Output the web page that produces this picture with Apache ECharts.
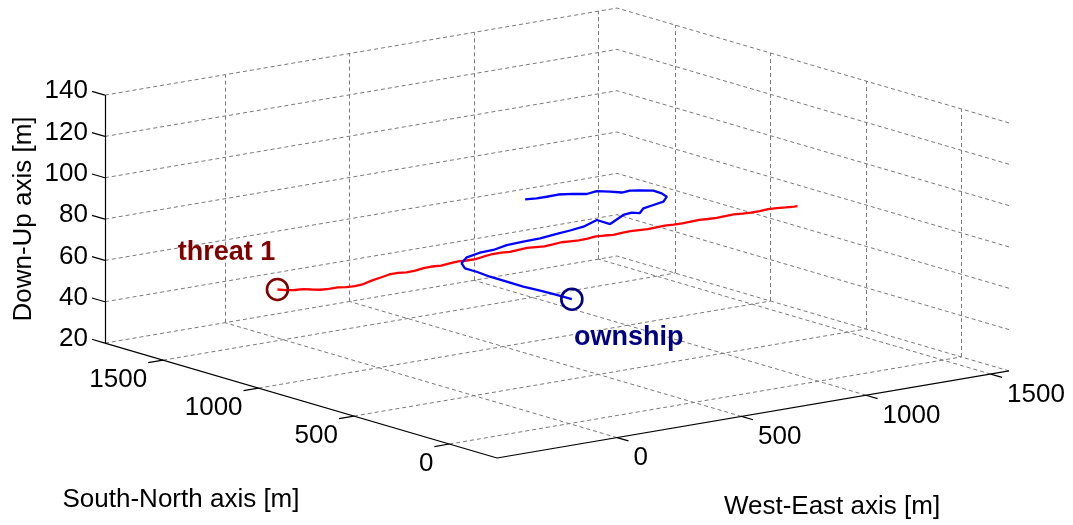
<!DOCTYPE html>
<html>
<head>
<meta charset="utf-8">
<script src="https://cdn.jsdelivr.net/npm/echarts@6/dist/echarts.min.js"></script>
<style>
  html, body { margin: 0; padding: 0; background: #ffffff; }
  #chart { width: 1073px; height: 525px; }
</style>
</head>
<body>
<div id="chart"></div>
<script>
// ---- axis extents (metres) ----
const weLimits = [-482, 1574];   // West-East
const snLimits = [-250, 1805];   // South-North
const upLimits = [20, 140];      // Down-Up

// ---- tick values ----
const weTicks = [0, 500, 1000, 1500];
const snTicks = [0, 500, 1000, 1500];
const upTicks = [20, 40, 60, 80, 100, 120, 140];

// ---- ownship track ----
const ownshipWE = [10, 8, 3, -5, -4, -3, 6, 6, 41, 106, 179, 237, 314, 385, 457, 537, 601, 668, 760, 759,
                   871, 912, 930, 980, 1034, 1088, 1140, 1156, 1158, 1125, 1098, 1062, 1039, 1011, 960, 926, 883, 834, 795, 757];
const ownshipSN = [0, 77, 157, 235, 323, 412, 494, 555, 618, 676, 703, 708, 738, 744, 750, 767, 781, 798, 848, 777,
                   854, 864, 844, 891, 909, 927, 977, 1025, 1071, 1099, 1116, 1111, 1143, 1176, 1162, 1188, 1211, 1208, 1209, 1220];
const ownshipUp = [80, 80, 80, 80, 80, 80, 80, 80, 80, 80, 80, 80, 80, 80, 80, 80, 80, 80, 80, 80,
                   80, 80, 80, 80, 80, 80, 80, 80, 80, 80, 80, 80, 80, 80, 80, 80, 80, 80, 80, 80];

// ---- threat 1 track ----
const threatWE = [0, 25, 50, 75, 100, 125, 150, 175, 200, 225, 250, 275, 300, 325, 350, 375, 400, 425, 450, 475,
                  500, 525, 550, 575, 600, 625, 650, 675, 700, 725, 750, 775, 800, 825, 850, 875, 900, 925, 950, 975,
                  1000, 1025, 1050, 1075, 1100, 1125, 1150, 1175, 1200, 1225, 1250, 1275, 1300, 1325, 1350, 1375, 1400, 1425, 1450, 1475,
                  1500, 1510];
const threatSN = [1530, 1518, 1505, 1492, 1480, 1468, 1455, 1442, 1430, 1418, 1405, 1392, 1380, 1368, 1355, 1342, 1330, 1318, 1305, 1292,
                  1280, 1268, 1255, 1242, 1230, 1218, 1205, 1192, 1180, 1168, 1155, 1142, 1130, 1118, 1105, 1092, 1080, 1068, 1055, 1042,
                  1030, 1018, 1005, 992, 980, 968, 955, 942, 930, 918, 905, 892, 880, 868, 855, 842, 830, 818, 805, 792,
                  780, 775];
const threatUp = [43.5, 43.0, 42.9, 43.2, 42.8, 42.5, 42.8, 43.3, 43.3, 43.6, 44.4, 46.0, 47.2, 48.5, 49.1, 49.2, 49.8, 50.9, 51.5, 51.8,
                  52.7, 53.4, 53.7, 54.2, 55.3, 56.3, 56.8, 57.0, 57.8, 58.6, 58.8, 59.0, 59.8, 60.6, 60.9, 61.2, 61.9, 62.7, 63.0, 63.2,
                  63.9, 64.6, 64.9, 65.2, 65.9, 66.6, 66.9, 67.3, 68.0, 68.6, 68.9, 69.3, 70.0, 70.6, 70.8, 71.1, 71.7, 72.4, 72.8, 73.0,
                  73.2, 73.3];

// ---- 3-D view: azimuth / elevation and plot-box edge lengths (screen units) ----
const view = { az: 37.3, el: 12.9 };
const box = { we: 643.7, sn: 647, up: 254.4 };
const tickLen = { we: 60, sn: 60, up: 68 };   // tick mark length, in data units of the direction they point

const RAD = Math.PI / 180;
const ca = Math.cos(view.az * RAD), sa = Math.sin(view.az * RAD);
const ce = Math.cos(view.el * RAD), se = Math.sin(view.el * RAD);

// orthographic projection of a (WE, SN, Up) point onto the page plane
function project(we, sn, up) {
  const x = box.we * (we - weLimits[0]) / (weLimits[1] - weLimits[0]);
  const y = box.sn * (sn - snLimits[0]) / (snLimits[1] - snLimits[0]);
  const z = box.up * (up - upLimits[0]) / (upLimits[1] - upLimits[0]);
  return [x * ca - y * sa, (x * sa + y * ca) * se + z * ce];
}
function seg(a, b) { return { coords: [project(a[0], a[1], a[2]), project(b[0], b[1], b[2])] }; }

const [we0, we1] = weLimits, [sn0, sn1] = snLimits, [up0, up1] = upLimits;

// dashed grid on the floor and on the two back walls
const gridSegs = [];
weTicks.forEach(t => {
  gridSegs.push(seg([t, sn0, up0], [t, sn1, up0]));       // floor
  gridSegs.push(seg([t, sn1, up0], [t, sn1, up1]));       // back wall (north)
});
snTicks.forEach(t => {
  gridSegs.push(seg([we0, t, up0], [we1, t, up0]));       // floor
  gridSegs.push(seg([we1, t, up0], [we1, t, up1]));       // back wall (east)
});
upTicks.forEach(t => {
  gridSegs.push(seg([we0, sn1, t], [we1, sn1, t]));
  gridSegs.push(seg([we1, sn0, t], [we1, sn1, t]));
});

// solid axis lines and outward tick marks
const axisSegs = [
  seg([we0, sn1, up0], [we0, sn1, up1]),
  seg([we0, sn0, up0], [we0, sn1, up0]),
  seg([we0, sn0, up0], [we1, sn0, up0])
];
upTicks.forEach(t => axisSegs.push(seg([we0, sn1, t], [we0, sn1 + tickLen.up, t])));
snTicks.forEach(t => axisSegs.push(seg([we0, t, up0], [we0 - tickLen.sn, t, up0])));
weTicks.forEach(t => axisSegs.push(seg([t, sn0, up0], [t, sn0 - tickLen.we, up0])));

// tick label anchors at the outer end of each tick mark
const upLabelData = upTicks.map(t => project(we0, sn1 + tickLen.up, t).concat(String(t)));
const snLabelData = snTicks.map(t => project(we0 - tickLen.sn, t, up0).concat(String(t)));
const weLabelData = weTicks.map(t => project(t, sn0 - tickLen.we, up0).concat(String(t)));

const track = (we, sn, up) => we.map((v, i) => project(v, sn[i], up[i]));
const ownshipPts = track(ownshipWE, ownshipSN, ownshipUp);
const threatPts = track(threatWE, threatSN, threatUp);

const FONT = '"Liberation Sans", Arial, Helvetica, sans-serif';
const tickLabel = (align, offset) => ({
  show: true, position: 'inside', align: align, verticalAlign: 'middle', offset: offset,
  formatter: p => p.value[2], fontFamily: FONT, fontSize: 26, color: '#000000', opacity: 1
});
const anchorSeries = (data, label) => ({
  type: 'scatter', data: data, symbolSize: 0.1, silent: true, z: 5,
  itemStyle: { color: 'rgba(0,0,0,0)', opacity: 1 }, label: label
});

const chart = echarts.init(document.getElementById('chart'));
chart.setOption({
  animation: false,
  backgroundColor: '#ffffff',
  grid: { left: 0, right: 0, top: 0, bottom: 0 },
  xAxis: { type: 'value', min: -497, max: 576, show: false, splitLine: { show: false } },
  yAxis: { type: 'value', min: -67, max: 458, show: false, splitLine: { show: false } },
  graphic: [
    { type: 'text', x: 24, y: 219, rotation: Math.PI / 2,
      style: { text: 'Down-Up axis [m]', font: '26px ' + FONT, fill: '#000', align: 'center', verticalAlign: 'middle' } },
    { type: 'text', x: 181, y: 500,
      style: { text: 'South-North axis [m]', font: '26px ' + FONT, fill: '#000', align: 'center', verticalAlign: 'middle' } },
    { type: 'text', x: 832, y: 507,
      style: { text: 'West-East axis [m]', font: '26px ' + FONT, fill: '#000', align: 'center', verticalAlign: 'middle' } }
  ],
  series: [
    {
      type: 'lines', coordinateSystem: 'cartesian2d', silent: true, z: 1,
      lineStyle: { color: '#7a7a7a', width: 1, type: [4, 3], opacity: 1 },
      data: gridSegs
    },
    {
      type: 'lines', coordinateSystem: 'cartesian2d', silent: true, z: 2,
      lineStyle: { color: '#000000', width: 1.2, opacity: 1 },
      data: axisSegs
    },
    anchorSeries(upLabelData, tickLabel('right', [-4, 0])),
    anchorSeries(snLabelData, tickLabel('right', [-1, 17])),
    anchorSeries(weLabelData, tickLabel('left', [5, 17])),
    {
      name: 'threat 1', type: 'line', data: threatPts, showSymbol: false, clip: false, z: 3,
      lineStyle: { color: '#ff0000', width: 2.3, opacity: 1 }
    },
    {
      name: 'ownship', type: 'line', data: ownshipPts, showSymbol: false, clip: false, z: 3,
      lineStyle: { color: '#0000ff', width: 2.3, opacity: 1 }
    },
    {
      type: 'scatter', data: [threatPts[0]], symbol: 'circle', symbolSize: 21, z: 4, clip: false,
      itemStyle: { color: 'rgba(0,0,0,0)', borderColor: '#800000', borderWidth: 2.6, opacity: 1 },
      label: { show: true, formatter: 'threat 1', position: 'inside', offset: [-51, -37], opacity: 1,
               fontFamily: FONT, fontSize: 27, fontWeight: 'bold', color: '#800000' }
    },
    {
      type: 'scatter', data: [ownshipPts[0]], symbol: 'circle', symbolSize: 21, z: 4, clip: false,
      itemStyle: { color: 'rgba(0,0,0,0)', borderColor: '#000080', borderWidth: 2.6, opacity: 1 },
      label: { show: true, formatter: 'ownship', position: 'inside', offset: [57, 38], opacity: 1,
               fontFamily: FONT, fontSize: 27, fontWeight: 'bold', color: '#000080' }
    }
  ]
});
</script>
</body>
</html>
